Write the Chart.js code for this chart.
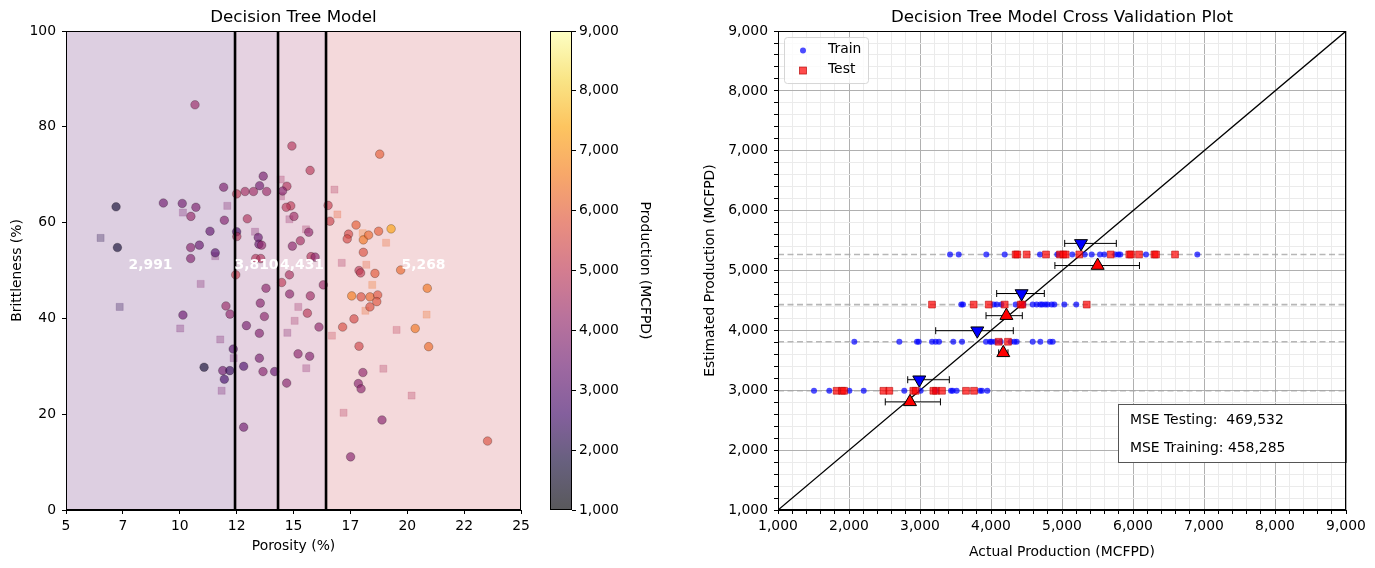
<!DOCTYPE html>
<html><head><meta charset="utf-8">
<script src="https://cdn.jsdelivr.net/npm/chart.js@4.4.0/dist/chart.umd.min.js"></script>
<style>
html,body{margin:0;padding:0;background:#fff;}
#wrap{position:relative;width:1375px;height:568px;overflow:hidden;background:#fff;}
canvas{position:absolute;top:0;}
</style></head><body>
<div id="wrap">
<canvas id="left" width="540" height="568" style="left:0px"></canvas>
<canvas id="cbar" width="120" height="568" style="left:540px"></canvas>
<canvas id="right" width="675" height="568" style="left:700px"></canvas>
</div>
<script>
// ---------------- DATA ----------------
const splitPorosity = [12.43, 14.32, 16.43];
const leafValues = [2991, 3810, 4431, 5268];
const xTickLabels = ['5','7','10','12','15','17','20','22','25'];

const trainPorosity = [10.67,7.2,7.26,9.28,10.11,10.71,10.49,11.93,11.96,11.33,10.86,10.48,10.48,11.56,10.14,12.03,12.21,12.35,11.07,11.89,12.2,11.96,
  12.5,12.5,12.51,12.46,
  13.67,13.51,12.87,13.24,13.82,12.97,13.45,13.48,13.6,13.34,13.56,13.79,13.54,13.72,12.93,13.5,13.5,12.81,13.66,14.17,12.81,
  14.93,15.73,14.71,14.52,14.88,14.68,15.02,15.67,15.3,14.95,15.77,15.95,14.82,14.48,16.31,14.83,15.74,15.61,16.12,15.2,15.71,14.7,
  16.52,16.6,18.79,17.75,17.42,17.36,18.07,18.3,18.74,19.29,18.07,17.88,17.95,18.58,19.71,20.88,17.56,17.97,18.36,18.7,18.66,18.36,17.66,17.16,20.35,20.94,17.88,18.05,17.85,17.97,18.89,17.51,23.53];
const trainBrittleness = [84.6,63.3,54.8,64.1,64.0,63.2,61.3,67.4,60.5,58.2,55.3,54.8,52.5,53.7,40.7,42.6,40.9,33.6,29.8,29.1,29.1,27.3,
  66.0,58.1,57.1,49.1,
  69.7,67.7,66.5,66.5,66.5,60.8,56.9,55.5,55.3,52.5,52.5,46.3,43.2,40.4,38.5,36.9,31.7,30.0,28.9,28.9,17.3,
  76.0,70.9,67.6,66.6,63.5,63.2,61.3,58.0,56.2,55.1,52.9,52.8,49.1,47.5,47.0,45.1,44.7,41.1,38.2,32.6,32.1,26.5,
  63.6,60.3,74.3,59.5,57.6,56.6,56.4,57.4,58.2,58.7,53.8,50.0,49.5,49.4,50.1,46.3,44.7,44.5,44.5,44.9,43.5,42.4,39.9,38.2,37.9,34.1,34.2,28.7,26.4,25.3,18.8,11.1,14.4];
const trainProduction = [4300,1700,1700,3500,3500,3700,4200,3700,3800,3200,3300,3900,3800,3000,3400,4300,4100,3000,1700,3500,2400,2600,
  5000,2800,4800,5200,
  3600,3500,4500,4400,4300,4700,3300,3300,4100,4800,4700,4000,3900,4000,3600,3800,3600,2800,3900,3300,3500,
  4800,4900,4700,3900,5000,4900,4400,4100,4500,4000,4800,4100,4600,5000,4300,4000,4400,4900,4100,4000,3800,3900,
  5200,5300,6000,6000,5500,5500,6500,6200,6000,7300,5700,5000,5100,5900,6200,6500,6600,5700,6200,5800,5800,5700,5500,5600,6500,6300,5400,4100,3900,4000,3900,3900,5700];

const testPorosity = [12.09,10.14,6.52,11.56,10.92,7.36,10.02,11.78,12.37,11.84,13.31,14.44,14.45,14.82,15.55,15.21,15.05,14.73,15.56,
  16.8,16.93,18.04,19.07,17.12,18.2,16.69,18.16,18.46,18.95,17.2,20.85,19.53,20.19];
const testBrittleness = [63.5,62.1,56.8,53.0,47.2,42.4,37.9,35.6,31.7,24.9,58.1,69.0,65.5,60.7,58.6,42.4,39.5,37.0,29.6,
  66.9,61.7,57.8,55.8,51.6,51.2,36.4,41.6,47.0,29.5,20.3,40.8,37.6,23.9];
const testProduction = [3800,3600,2000,3700,3800,2200,3600,3700,3400,3600,3800,4500,4300,4200,4500,4300,4400,3800,4000,
  4700,6000,6500,6200,4600,6000,5200,6200,6400,4700,4800,6300,5000,4800];

// cross validation (actual production per leaf)
const trainActualLeaf1 = [1507,1723,2005,2207,2779,3009,3221,3437,3460,3516,3845,3873,3948];
const testActualLeaf1  = [1826,1901,1930,2484,2568,2906,2939,3188,3225,3310,3648,3761];
const trainActualLeaf2 = [2075,2709,2958,2982,3169,3221,3268,3469,3592,3930,3986,4010,4060,4136,4277,4329,4362,4587,4695,4831,4869];
const testActualLeaf2  = [4108,4239];
const trainActualLeaf3 = [3582,3606,4038,4080,4146,4347,4455,4587,4643,4695,4723,4765,4798,4855,4892,5033,5201];
const testActualLeaf3  = [3169,3756,3968,4193,4418,4441,5348];
const trainActualLeaf4 = [3423,3545,3934,4193,4690,4934,5145,5320,5418,5535,5596,5751,5793,5821,6183,6906];
const testActualLeaf4  = [4347,4370,4502,4775,4972,5019,5052,5244,5686,5948,5972,6085,6301,6324,6592];

const trainMeanX  = [2990, 3807, 4431, 5268];
const trainBarLow = [2827, 3221, 4080, 5038];
const trainBarHigh= [3413, 4314, 4751, 5765];
const testMeanX   = [2859, 4173, 4217, 5502];
const testBarLow  = [2511, 4108, 3930, 4900];
const testBarHigh = [3288, 4239, 4441, 6091];

const mseTesting = 469532;
const mseTraining = 458285;

// ---------------- STYLE / HELPERS ----------------
const FONT = "'DejaVu Sans', sans-serif";
Chart.defaults.font.family = FONT;
Chart.defaults.font.size = 13.9;
Chart.defaults.color = '#000';
const fmt = v => Math.round(v).toLocaleString('en-US');
const INFERNO = [[0,0,4],[22,11,57],[66,10,104],[106,23,110],[147,38,103],[188,55,84],[221,81,58],[243,120,25],[252,165,10],[246,215,70],[252,255,164]];
function inferno(t, a) {
  t = Math.max(0, Math.min(1, t));
  const s = t * 10, i = Math.min(9, Math.floor(s)), f = s - i;
  const c0 = INFERNO[i], c1 = INFERNO[i + 1];
  const c = [0,1,2].map(k => Math.round(c0[k] + (c1[k] - c0[k]) * f));
  return `rgba(${c[0]},${c[1]},${c[2]},${a})`;
}
const PMIN = 1000, PMAX = 9000;
const norm = v => (v - PMIN) / (PMAX - PMIN);
const PT_ALPHA = 0.65;
const LABEL_Y = 51;

const frame = {
  id: 'frame',
  afterDraw(chart) {
    const a = chart.chartArea, ctx = chart.ctx;
    ctx.save(); ctx.strokeStyle = '#000'; ctx.lineWidth = 1;
    ctx.strokeRect(Math.round(a.left) + 0.5, Math.round(a.top) + 0.5, Math.round(a.right - a.left) - 1, Math.round(a.bottom - a.top) - 1);
    ctx.restore();
  }
};

// ---------------- LEFT CHART ----------------
const bounds = [5, ...splitPorosity, 25];
const regionSets = leafValues.map((v, i) => ({
  type: 'line',
  data: [{x: bounds[i], y: 100}, {x: bounds[i + 1], y: 100}],
  fill: 'origin',
  backgroundColor: inferno(norm(v), 0.2),
  borderWidth: 0, pointRadius: 0, order: 50
}));
const splitSets = splitPorosity.map(s => ({
  type: 'line',
  data: [{x: s, y: 0}, {x: s, y: 100}],
  borderColor: '#000', borderWidth: 2.6, pointRadius: 0, fill: false, order: 5
}));
const regionLabels = {
  id: 'regionLabels',
  afterDatasetsDraw(chart) {
    const ctx = chart.ctx, xs = chart.scales.x, ys = chart.scales.y;
    ctx.save();
    ctx.fillStyle = '#fff';
    ctx.font = `bold 13.9px ${FONT}`;
    ctx.textAlign = 'center'; ctx.textBaseline = 'middle';
    leafValues.forEach((v, i) => {
      ctx.fillText(fmt(v), xs.getPixelForValue((bounds[i] + bounds[i + 1]) / 2), ys.getPixelForValue(LABEL_Y));
    });
    ctx.restore();
  }
};

new Chart(document.getElementById('left'), {
  type: 'scatter',
  data: {
    datasets: [
      ...regionSets,
      {
        label: 'test',
        data: testPorosity.map((p, i) => ({x: p, y: testBrittleness[i]})),
        pointStyle: 'rect', pointRadius: 5,
        pointBackgroundColor: testProduction.map(v => inferno(norm(v), 0.3)),
        pointBorderColor: testProduction.map(v => inferno(norm(v), 0.3)),
        pointBorderWidth: 0.5, order: 40
      },
      {
        label: 'train',
        data: trainPorosity.map((p, i) => ({x: p, y: trainBrittleness[i]})),
        pointStyle: 'circle', pointRadius: 4.3,
        pointBackgroundColor: trainProduction.map(v => inferno(norm(v), PT_ALPHA)),
        pointBorderColor: 'rgba(0,0,0,0.4)',
        pointBorderWidth: 0.6, order: 30
      },
      ...splitSets
    ]
  },
  options: {
    responsive: false, animation: false, events: [],
    layout: {padding: {left: 0, right: 19, top: 0, bottom: 0}},
    plugins: {
      legend: {display: false}, tooltip: {enabled: false},
      title: {display: true, text: 'Decision Tree Model', fullSize: false,
        font: {size: 16.7, weight: 'normal'}, color: '#000', padding: {top: 8, bottom: 3}}
    },
    scales: {
      x: {
        type: 'linear', min: 5, max: 25,
        ticks: {stepSize: 2.5, autoSkip: false, maxRotation: 0, padding: 4, color: '#000',
          callback: (v, i) => xTickLabels[i]},
        grid: {drawOnChartArea: false, drawTicks: true, tickLength: 4, tickColor: '#000'},
        border: {display: true, color: '#000', width: 1},
        title: {display: true, text: 'Porosity (%)', color: '#000', padding: {top: 0, bottom: 13.7}},
        afterFit: s => { s.height = 58; }
      },
      y: {
        type: 'linear', min: 0, max: 100,
        ticks: {stepSize: 20, padding: 6, color: '#000'},
        grid: {drawOnChartArea: false, drawTicks: true, tickLength: 4, tickColor: '#000'},
        border: {display: true, color: '#000', width: 1},
        title: {display: true, text: 'Brittleness (%)', color: '#000', padding: {top: 8.7, bottom: 0}},
        afterFit: s => { s.width = 66; }
      }
    }
  },
  plugins: [regionLabels, frame]
});

// ---------------- COLORBAR ----------------
new Chart(document.getElementById('cbar'), {
  type: 'bar',
  data: {
    labels: ['Production'],
    datasets: [{
      data: [[PMIN, PMAX]],
      barPercentage: 1, categoryPercentage: 1, borderWidth: 0,
      backgroundColor: (c) => {
        const area = c.chart.chartArea;
        if (!area) return 'gray';
        const g = c.chart.ctx.createLinearGradient(0, area.bottom, 0, area.top);
        for (let k = 0; k <= 10; k++) g.addColorStop(k / 10, inferno(k / 10, PT_ALPHA));
        return g;
      }
    }]
  },
  options: {
    responsive: false, animation: false, events: [],
    layout: {padding: {left: 10, right: 0, top: 31, bottom: 58}},
    plugins: {legend: {display: false}, tooltip: {enabled: false}},
    scales: {
      x: {display: false},
      y: {
        position: 'right', min: PMIN, max: PMAX,
        ticks: {stepSize: 1000, padding: 3, color: '#000', callback: v => fmt(v)},
        grid: {drawOnChartArea: false, drawTicks: true, tickLength: 4, tickColor: '#000'},
        border: {display: false},
        title: {display: true, text: 'Production (MCFPD)', color: '#000', padding: {top: 6.7, bottom: 0}},
        afterFit: s => { s.width = 88; }
      }
    }
  },
  plugins: [frame]
});

// ---------------- RIGHT CHART ----------------
const AX_MIN = 1000, AX_MAX = 9000;
const markerOffset = 185;
const trainLeaves = [trainActualLeaf1, trainActualLeaf2, trainActualLeaf3, trainActualLeaf4];
const testLeaves = [testActualLeaf1, testActualLeaf2, testActualLeaf3, testActualLeaf4];

const dashedSets = leafValues.map(v => ({
  type: 'line', data: [{x: AX_MIN, y: v}, {x: AX_MAX, y: v}],
  borderColor: 'rgba(165,165,165,0.8)', borderWidth: 1.6, borderDash: [6, 3.5],
  pointRadius: 0, fill: false, order: 60
}));
const errSets = [];
leafValues.forEach((v, i) => {
  errSets.push({
    type: 'line', data: [{x: trainBarLow[i], y: v + markerOffset}, {x: trainBarHigh[i], y: v + markerOffset}],
    borderColor: '#000', borderWidth: 1, pointStyle: 'line', pointRotation: 90, pointRadius: 3.5,
    pointBorderColor: '#000', pointBorderWidth: 1, fill: false, order: 10
  });
  errSets.push({
    type: 'line', data: [{x: testBarLow[i], y: v - markerOffset}, {x: testBarHigh[i], y: v - markerOffset}],
    borderColor: '#000', borderWidth: 1, pointStyle: 'line', pointRotation: 90, pointRadius: 3.5,
    pointBorderColor: '#000', pointBorderWidth: 1, fill: false, order: 10
  });
});

const isMajor = v => Math.round(v) % 1000 === 0;
const gridColor = c => (c.tick && isMajor(c.tick.value)) ? '#b0b0b0' : '#ebebeb';

const legendBox = {
  id: 'legendBox',
  afterDraw(chart) {
    const ctx = chart.ctx, a = chart.chartArea;
    const x0 = a.left + 6.5, y0 = a.top + 6.5, w = 84, h = 46;
    ctx.save();
    ctx.fillStyle = 'rgba(255,255,255,0.8)';
    ctx.strokeStyle = '#d6d6d6'; ctx.lineWidth = 1;
    ctx.beginPath(); ctx.roundRect(x0, y0, w, h, 3); ctx.fill(); ctx.stroke();
    ctx.fillStyle = 'rgba(0,0,255,0.7)';
    ctx.beginPath(); ctx.arc(a.left + 25, a.top + 19.5, 3, 0, Math.PI * 2); ctx.fill();
    ctx.fillStyle = 'rgba(255,0,0,0.7)'; ctx.strokeStyle = 'rgba(180,0,0,0.8)'; ctx.lineWidth = 0.8;
    ctx.fillRect(a.left + 21.5, a.top + 36, 7, 7); ctx.strokeRect(a.left + 21.5, a.top + 36, 7, 7);
    ctx.fillStyle = '#000'; ctx.font = `13.9px ${FONT}`; ctx.textBaseline = 'middle'; ctx.textAlign = 'left';
    ctx.fillText('Train', a.left + 50, a.top + 18.5);
    ctx.fillText('Test', a.left + 50, a.top + 38.5);
    ctx.restore();
  }
};
const mseBox = {
  id: 'mseBox',
  afterDraw(chart) {
    const ctx = chart.ctx, a = chart.chartArea;
    const w = 228, h = 58, x0 = a.right - w, y0 = a.bottom - 106;
    ctx.save();
    ctx.fillStyle = '#fff'; ctx.fillRect(x0, y0, w, h);
    ctx.strokeStyle = '#555'; ctx.lineWidth = 1;
    ctx.strokeRect(Math.round(x0) + 0.5, Math.round(y0) + 0.5, w, h);
    ctx.fillStyle = '#000'; ctx.font = `13.9px ${FONT}`; ctx.textBaseline = 'middle'; ctx.textAlign = 'left';
    ctx.fillText('MSE Testing:  ' + fmt(mseTesting), x0 + 12, y0 + 16);
    ctx.fillText('MSE Training: ' + fmt(mseTraining), x0 + 12, y0 + 44);
    ctx.restore();
  }
};

new Chart(document.getElementById('right'), {
  type: 'scatter',
  data: {
    datasets: [
      ...dashedSets,
      {
        type: 'line', data: [{x: AX_MIN, y: AX_MIN}, {x: AX_MAX, y: AX_MAX}],
        borderColor: '#000', borderWidth: 1.3, pointRadius: 0, fill: false, order: 55
      },
      {
        label: 'Train',
        data: trainLeaves.flatMap((arr, i) => arr.map(v => ({x: v, y: leafValues[i]}))),
        pointStyle: 'circle', pointRadius: 3, pointBackgroundColor: 'rgba(0,0,255,0.7)', pointBorderWidth: 0, order: 30
      },
      {
        label: 'Test',
        data: testLeaves.flatMap((arr, i) => arr.map(v => ({x: v, y: leafValues[i]}))),
        pointStyle: 'rect', pointRadius: 4.8, pointBackgroundColor: 'rgba(255,0,0,0.7)',
        pointBorderColor: 'rgba(180,0,0,0.7)', pointBorderWidth: 0.8, order: 20
      },
      ...errSets,
      {
        label: 'train mean',
        data: leafValues.map((v, i) => ({x: trainMeanX[i], y: v + markerOffset})),
        pointStyle: 'triangle', pointRotation: 180, pointRadius: 7.5,
        pointBackgroundColor: '#0000ff', pointBorderColor: '#000', pointBorderWidth: 1, order: 1
      },
      {
        label: 'test mean',
        data: leafValues.map((v, i) => ({x: testMeanX[i], y: v - markerOffset})),
        pointStyle: 'triangle', pointRotation: 0, pointRadius: 7.5,
        pointBackgroundColor: '#ff0000', pointBorderColor: '#000', pointBorderWidth: 1, order: 1
      }
    ]
  },
  options: {
    responsive: false, animation: false, events: [],
    layout: {padding: {left: 0, right: 29, top: 0, bottom: 0}},
    plugins: {
      legend: {display: false}, tooltip: {enabled: false},
      title: {display: true, text: 'Decision Tree Model Cross Validation Plot', fullSize: false,
        font: {size: 16.7, weight: 'normal'}, color: '#000', padding: {top: 8, bottom: 3}}
    },
    scales: {
      x: {
        type: 'linear', min: AX_MIN, max: AX_MAX,
        ticks: {stepSize: 200, autoSkip: false, maxRotation: 0, padding: 4, color: '#000',
          callback: v => isMajor(v) ? fmt(v) : ''},
        grid: {color: gridColor, lineWidth: 1, drawTicks: true, tickLength: 4, tickColor: '#000'},
        border: {display: true, color: '#000', width: 1},
        title: {display: true, text: 'Actual Production (MCFPD)', color: '#000', padding: {top: 0, bottom: 7.7}},
        afterFit: s => { s.height = 58; }
      },
      y: {
        type: 'linear', min: AX_MIN, max: AX_MAX,
        ticks: {stepSize: 200, autoSkip: false, padding: 6, color: '#000',
          callback: v => isMajor(v) ? fmt(v) : ''},
        grid: {color: gridColor, lineWidth: 1, drawTicks: true, tickLength: 4, tickColor: '#000'},
        border: {display: true, color: '#000', width: 1},
        title: {display: true, text: 'Estimated Production (MCFPD)', color: '#000', padding: {top: 1.7, bottom: 0}},
        afterFit: s => { s.width = 78; }
      }
    }
  },
  plugins: [legendBox, mseBox, frame]
});
</script>
</body></html>
